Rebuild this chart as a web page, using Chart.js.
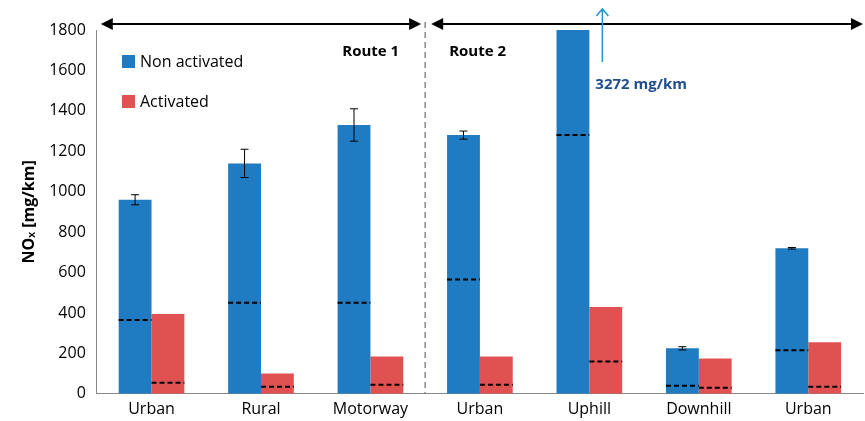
<!DOCTYPE html>
<html>
<head>
<meta charset="utf-8">
<script src="https://cdn.jsdelivr.net/npm/chart.js@4"></script>
<style>
  body { margin: 0; background: #fff; }
  #wrap { width: 865px; height: 421px; }
</style>
</head>
<body>
<div id="wrap"><canvas id="c"></canvas></div>
<script>
// data
const categories = ['Urban', 'Rural', 'Motorway', 'Urban', 'Uphill', 'Downhill', 'Urban'];
const nonActivated = [960, 1140, 1330, 1280, 1800, 225, 720];
const nonActivatedErr = [25, 70, 80, 20, 0, 8, 4];
const activated = [395, 100, 185, 185, 430, 175, 255];
const refNonActivated = [365, 450, 450, 565, 1280, 40, 215];
const refActivated = [55, 35, 45, 45, 160, 30, 35];

const BLUE = '#1f7bc2';
const RED = '#e05151';
const FONT = '"Open Sans", Arial, sans-serif';

// error bars, dashed reference lines, route arrows, legend and note
const overlay = {
    id: 'overlay',
    afterDatasetsDraw(chart) {
        const ctx = chart.ctx;
        const y = chart.scales.y;
        const x = chart.scales.x;
        const area = chart.chartArea;

        // error bars and dashed lines
        [0, 1].forEach(di => {
            const meta = chart.getDatasetMeta(di);
            const refs = di === 0 ? refNonActivated : refActivated;
            meta.data.forEach((bar, i) => {
                const half = bar.width / 2;
                ctx.save();
                ctx.strokeStyle = '#000';
                ctx.lineWidth = 2;
                ctx.setLineDash([5, 3]);
                const ry = y.getPixelForValue(refs[i]);
                ctx.beginPath();
                ctx.moveTo(bar.x - half, ry);
                ctx.lineTo(bar.x + half, ry);
                ctx.stroke();
                ctx.restore();

                if (di === 0 && nonActivatedErr[i] > 0) {
                    const top = y.getPixelForValue(nonActivated[i] + nonActivatedErr[i]);
                    const bot = y.getPixelForValue(nonActivated[i] - nonActivatedErr[i]);
                    ctx.save();
                    ctx.strokeStyle = '#000';
                    ctx.lineWidth = 1;
                    ctx.beginPath();
                    ctx.moveTo(bar.x, top); ctx.lineTo(bar.x, bot);
                    ctx.moveTo(bar.x - 4, top); ctx.lineTo(bar.x + 4, top);
                    ctx.moveTo(bar.x - 4, bot); ctx.lineTo(bar.x + 4, bot);
                    ctx.stroke();
                    ctx.restore();
                }
            });
        });

        // route divider
        const divX = (x.getPixelForValue(2) + x.getPixelForValue(3)) / 2;
        ctx.save();
        ctx.strokeStyle = '#888';
        ctx.lineWidth = 1.5;
        ctx.setLineDash([6, 4]);
        ctx.beginPath();
        ctx.moveTo(divX, 22);
        ctx.lineTo(divX, area.bottom);
        ctx.stroke();
        ctx.restore();

        // double arrows
        function dblArrow(x1, x2, ay) {
            ctx.save();
            ctx.strokeStyle = '#000';
            ctx.fillStyle = '#000';
            ctx.lineWidth = 2;
            ctx.beginPath();
            ctx.moveTo(x1 + 8, ay); ctx.lineTo(x2 - 8, ay);
            ctx.stroke();
            ctx.beginPath();
            ctx.moveTo(x1, ay); ctx.lineTo(x1 + 12, ay - 6); ctx.lineTo(x1 + 12, ay + 6); ctx.closePath();
            ctx.moveTo(x2, ay); ctx.lineTo(x2 - 12, ay - 6); ctx.lineTo(x2 - 12, ay + 6); ctx.closePath();
            ctx.fill();
            ctx.restore();
        }
        dblArrow(area.left + 4, divX - 4, 24);
        dblArrow(divX + 6, 863, 24);

        ctx.save();
        ctx.fillStyle = '#000';
        ctx.font = 'bold 15px ' + FONT;
        ctx.textBaseline = 'middle';
        ctx.textAlign = 'right';
        ctx.fillText('Route 1', divX - 26, 52);
        ctx.textAlign = 'left';
        ctx.fillText('Route 2', divX + 24, 52);

        // 3272 note
        const up = chart.getDatasetMeta(0).data[4];
        const nx = up.x + up.width / 2 + 13;
        ctx.strokeStyle = '#2b8fd6';
        ctx.lineWidth = 1.5;
        ctx.beginPath();
        ctx.moveTo(nx, 62); ctx.lineTo(nx, 9);
        ctx.moveTo(nx - 6, 16); ctx.lineTo(nx, 9); ctx.lineTo(nx + 6, 16);
        ctx.stroke();
        ctx.fillStyle = '#1f4e8c';
        ctx.fillText('3272 mg/km', nx - 7, 85);

        // legend
        ctx.font = '16px ' + FONT;
        ctx.fillStyle = BLUE;
        ctx.fillRect(122, 55, 13, 13);
        ctx.fillStyle = RED;
        ctx.fillRect(122, 95, 13, 13);
        ctx.fillStyle = '#000';
        ctx.fillText('Non activated', 140, 62);
        ctx.fillText('Activated', 140, 102);
        ctx.restore();
    }
};

new Chart(document.getElementById('c'), {
    type: 'bar',
    data: {
        labels: categories,
        datasets: [
            { label: 'Non activated', data: nonActivated, backgroundColor: BLUE },
            { label: 'Activated', data: activated, backgroundColor: RED }
        ]
    },
    options: {
        responsive: true,
        maintainAspectRatio: false,
        animation: false,
        layout: { padding: { top: 30, right: 2, left: 16, bottom: 0 } },
        datasets: { bar: { categoryPercentage: 0.6, barPercentage: 1.0 } },
        scales: {
            y: {
                min: 0, max: 1800,
                ticks: {
                    stepSize: 200, color: '#000', padding: 6,
                    font: { size: 16, family: FONT },
                    callback: v => String(v)
                },
                grid: { display: false, drawTicks: true, tickLength: 5 },
                border: { color: '#888' },
                title: {
                    display: true,
                    text: 'NOₓ [mg/km]',
                    color: '#000',
                    font: { size: 16, weight: 'bold', family: FONT }
                }
            },
            x: {
                ticks: { color: '#000', padding: 2, font: { size: 16, family: FONT } },
                grid: { display: false, tickLength: 4 },
                border: { color: '#888' }
            }
        },
        plugins: { legend: { display: false }, tooltip: { enabled: false } }
    },
    plugins: [overlay]
});
</script>
</body>
</html>
